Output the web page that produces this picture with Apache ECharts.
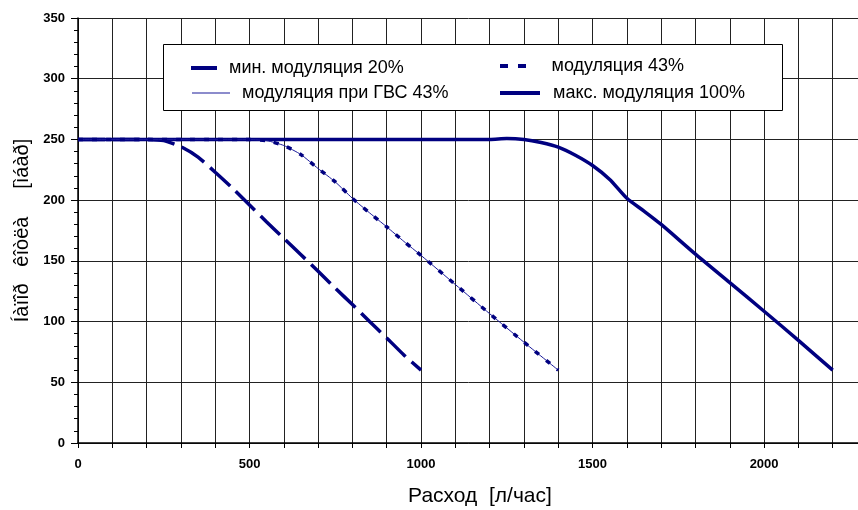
<!DOCTYPE html>
<html>
<head>
<meta charset="utf-8">
<script src="https://cdn.jsdelivr.net/npm/echarts@6/dist/echarts.min.js"></script>
<style>html,body{margin:0;padding:0;background:#fff;}#chart{width:858px;height:510px;}</style>
</head>
<body>
<div id="chart"></div>
<script>
// ---- data ----
var seriesNames = ['мин. модуляция 20%', 'модуляция 43%', 'модуляция при ГВС 43%', 'макс. модуляция 100%'];
var minMod20 = [[0,250],[100,250],[200,250],[250,249],[300,244],[350,235.5],[400,223],[450,210],[500,196],[550,182],[600,168.5],[650,155],[700,141.5],[750,127.5],[800,114],[850,100],[900,86.5],[950,72.5],[1000,60]];
var mod43 = [[0,250],[100,250],[200,250],[300,250],[400,250],[500,250],[550,249],[600,245],[650,237.5],[700,226],[750,215],[800,201.5],[850,189.5],[900,178],[950,166],[1000,154.5],[1100,130.5],[1200,106.5],[1300,83],[1400,60]];
var mod43dhw = [[0,250],[100,250],[200,250],[300,250],[400,250],[500,250],[550,249],[600,245],[650,237.5],[700,226],[750,215],[800,201.5],[850,189.5],[900,178],[950,166],[1000,154.5],[1100,130.5],[1200,106.5],[1300,83],[1400,60]];
var maxMod100 = [[0,250],[400,250],[800,250],[1200,250],[1250,250.8],[1300,250],[1350,247.5],[1400,243.7],[1450,237],[1500,228.5],[1550,217],[1600,201.5],[1650,191],[1700,180],[1800,155.5],[1900,132],[2000,108.5],[2100,84.5],[2200,60]];
var xLabelValues = [0, 500, 1000, 1500, 2000];
var yTitle = 'Íàïîð   êîòëà     [ìáàð]';
var xTitle = 'Расход  [л/час]';

var navy = '#000080';
var FONT = 'Liberation Sans, Arial, sans-serif';

var chart = echarts.init(document.getElementById('chart'));

function legendAt(name, left, top, icon, w, h, textPad) {
  return {
    data: [{name: name, icon: icon}],
    left: left, top: top, orient: 'horizontal', padding: 0,
    itemWidth: w, itemHeight: h, selectedMode: false,
    textStyle: {fontFamily: FONT, fontSize: 18, color: '#000', lineHeight: 20, padding: [0,0,0,textPad]}
  };
}

var option = {
  animation: false,
  backgroundColor: '#fff',
  grid: {left: 78, top: 18, width: 789, height: 425, containLabel: false, outerBoundsMode: 'none'},
  xAxis: {
    type: 'value', min: 0, max: 2300, interval: 100,
    axisLine: {show: true, onZero: false, lineStyle: {color: '#000', width: 1.5}},
    axisTick: {show: true, length: 5, lineStyle: {color: '#000'}},
    splitLine: {show: true, lineStyle: {color: '#222', width: 1}},
    axisLabel: {
      margin: 15, color: '#000', fontFamily: FONT, fontSize: 13, fontWeight: 'bold',
      formatter: function (v) { return xLabelValues.indexOf(v) >= 0 ? String(v) : ''; }
    }
  },
  yAxis: {
    type: 'value', min: 0, max: 350, interval: 50,
    name: yTitle, nameLocation: 'middle', nameGap: 44, nameRotate: 90,
    nameTextStyle: {fontFamily: FONT, fontSize: 20, color: '#000'},
    axisLine: {show: true, lineStyle: {color: '#000', width: 1.5}},
    axisTick: {show: true, length: 7, lineStyle: {color: '#000'}},
    minorTick: {show: true, splitNumber: 5, length: 4, lineStyle: {color: '#000'}},
    splitLine: {show: true, lineStyle: {color: '#222', width: 1}},
    axisLabel: {margin: 13, color: '#000', fontFamily: FONT, fontSize: 13, fontWeight: 'bold'}
  },
  legend: [
    legendAt(seriesNames[0], 191, 58, 'rect', 26, 4, 7),
    legendAt(seriesNames[1], 500, 56, 'path://M0,0H8V4H0Z M18,0H26V4H18Z', 29, 4, 19),
    legendAt(seriesNames[2], 192, 83, 'rect', 38, 1, 7),
    legendAt(seriesNames[3], 500, 83, 'rect', 40, 4, 8)
  ],
  graphic: [
    {type: 'rect', z: 3, shape: {x: 163.5, y: 44.5, width: 619, height: 66},
     style: {fill: '#fff', stroke: '#000', lineWidth: 1}},
    {type: 'text', z: 5, x: 480, y: 496,
     style: {text: xTitle, fontFamily: FONT, fontSize: 21, fill: '#000', textAlign: 'center', textVerticalAlign: 'middle'}}
  ],
  series: [
    {name: seriesNames[3], type: 'line', data: maxMod100, showSymbol: false, smooth: 0.25, z: 3,
     color: navy, lineStyle: {color: navy, width: 3.5}},
    {name: seriesNames[0], type: 'line', data: minMod20, showSymbol: false, smooth: 0.2, z: 4,
     color: navy, lineStyle: {color: navy, width: 3.5, type: [27, 8]}},
    {name: seriesNames[2], type: 'line', data: mod43dhw, showSymbol: false, smooth: 0.2, z: 4,
     color: '#1a1a9a', lineStyle: {color: '#1a1a9a', width: 1}},
    {name: seriesNames[1], type: 'line', data: mod43, showSymbol: false, smooth: 0.2, z: 5,
     color: navy, lineStyle: {color: navy, width: 3.5, type: [5, 9]}}
  ]
};
chart.setOption(option);
</script>
</body>
</html>
